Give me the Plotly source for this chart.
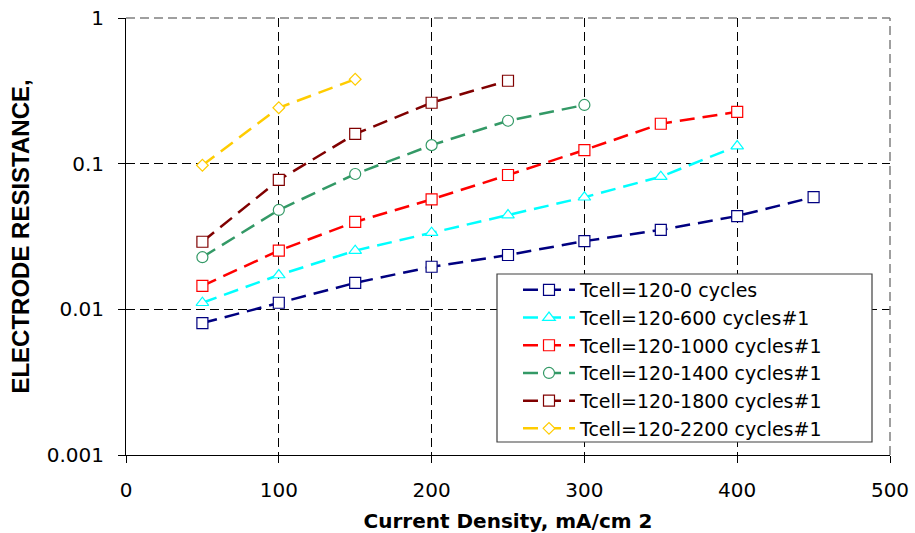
import plotly.graph_objects as go

# Current density (mA/cm2) at which each run was measured
current_density = [50, 100, 150, 200, 250, 300, 350, 400, 450]

# Electrode resistance per cycling stage
r_0 = [0.00805, 0.0111, 0.0152, 0.0196, 0.0236, 0.0294, 0.0351, 0.0437, 0.059]
r_600 = [0.0111, 0.0172, 0.0253, 0.0336, 0.0444, 0.0588, 0.0814, 0.132]
r_1000 = [0.0145, 0.0253, 0.0398, 0.0569, 0.0836, 0.124, 0.188, 0.227]
r_1400 = [0.0228, 0.0481, 0.0849, 0.134, 0.197, 0.253]
r_1800 = [0.0291, 0.0773, 0.160, 0.262, 0.371]
r_2200 = [0.0975, 0.242, 0.380]

series_names = [
    "Tcell=120-0 cycles",
    "Tcell=120-600 cycles#1",
    "Tcell=120-1000 cycles#1",
    "Tcell=120-1400 cycles#1",
    "Tcell=120-1800 cycles#1",
    "Tcell=120-2200 cycles#1",
]
series_values = [r_0, r_600, r_1000, r_1400, r_1800, r_2200]
series_colors = ["#000080", "#00FFFF", "#FF0000", "#339966", "#800000", "#FFCC00"]
series_symbols = ["square", "triangle-up", "square", "circle", "square", "diamond"]
series_sizes = [11, 11, 11, 11, 11, 9]

y_tickvals = [0.001, 0.01, 0.1, 1]
y_ticktext = ["0.001", "0.01", "0.1", "1"]
x_tickvals = [0, 100, 200, 300, 400, 500]

fig = go.Figure()
for name, vals, col, sym, sz in zip(series_names, series_values, series_colors,
                                    series_symbols, series_sizes):
    fig.add_trace(go.Scatter(
        x=current_density[:len(vals)],
        y=vals,
        name=name,
        mode="lines+markers",
        line=dict(color=col, width=2.5, dash="15px,8px"),
        marker=dict(symbol=sym, size=sz, color="white",
                    line=dict(color=col, width=1.2)),
    ))

L, R, T, B = 126, 25, 18, 78
W, H = 915, 533
pw, ph = W - L - R, H - T - B

def px_x(p):
    return (p - L) / pw

def px_y(p):
    return (H - B - p) / ph

tick_font = dict(family="DejaVu Sans", size=20, color="black")

fig.update_layout(
    width=W, height=H,
    margin=dict(l=L, r=R, t=T, b=B, pad=0, autoexpand=False),
    paper_bgcolor="white", plot_bgcolor="white",
    showlegend=True,
    legend=dict(
        x=px_x(518), y=px_y(271), xanchor="left", yanchor="top",
        bgcolor="rgba(0,0,0,0)", borderwidth=0,
        font=dict(family="DejaVu Sans", size=19, color="black"),
        itemwidth=52, tracegroupgap=0,
    ),
    xaxis=dict(
        range=[0, 500], tickvals=x_tickvals, ticks="outside", ticklen=7,
        tickcolor="black", showline=True, linecolor="black", linewidth=1,
        showgrid=True, gridcolor="black", gridwidth=1, griddash="9px,5px",
        zeroline=False, tickfont=tick_font, ticklabelstandoff=10,
        automargin=False,
        title=dict(text="<b>Current Density, mA/cm 2</b>",
                   font=dict(family="DejaVu Sans", size=20, color="black"),
                   standoff=14),
    ),
    yaxis=dict(
        type="log", range=[-3, 0], tickvals=y_tickvals, ticktext=y_ticktext,
        ticks="outside", ticklen=7, tickcolor="black",
        showline=True, linecolor="black", linewidth=1,
        showgrid=True, gridcolor="black", gridwidth=1, griddash="9px,5px",
        zeroline=False, tickfont=tick_font, ticklabelstandoff=10,
        automargin=False,
        title=dict(text="<b>ELECTRODE RESISTANCE,</b>",
                   font=dict(family="Liberation Sans, Arial", size=24, color="black"),
                   standoff=10),
    ),
    shapes=[
        # dashed frame on the top and right sides of the plot area
        dict(type="line", xref="paper", yref="paper", x0=0, x1=1, y0=1, y1=1,
             line=dict(color="#808080", width=1.5, dash="9px,5px"), layer="above"),
        dict(type="line", xref="paper", yref="paper", x0=1, x1=1, y0=0, y1=1,
             line=dict(color="#808080", width=1.5, dash="9px,5px"), layer="above"),
        # legend panel
        dict(type="rect", xref="paper", yref="paper",
             x0=px_x(497), x1=px_x(872), y0=px_y(442), y1=px_y(274),
             fillcolor="white", line=dict(color="#404040", width=1.2), layer="above"),
    ],
)

fig.write_html("out.html")
